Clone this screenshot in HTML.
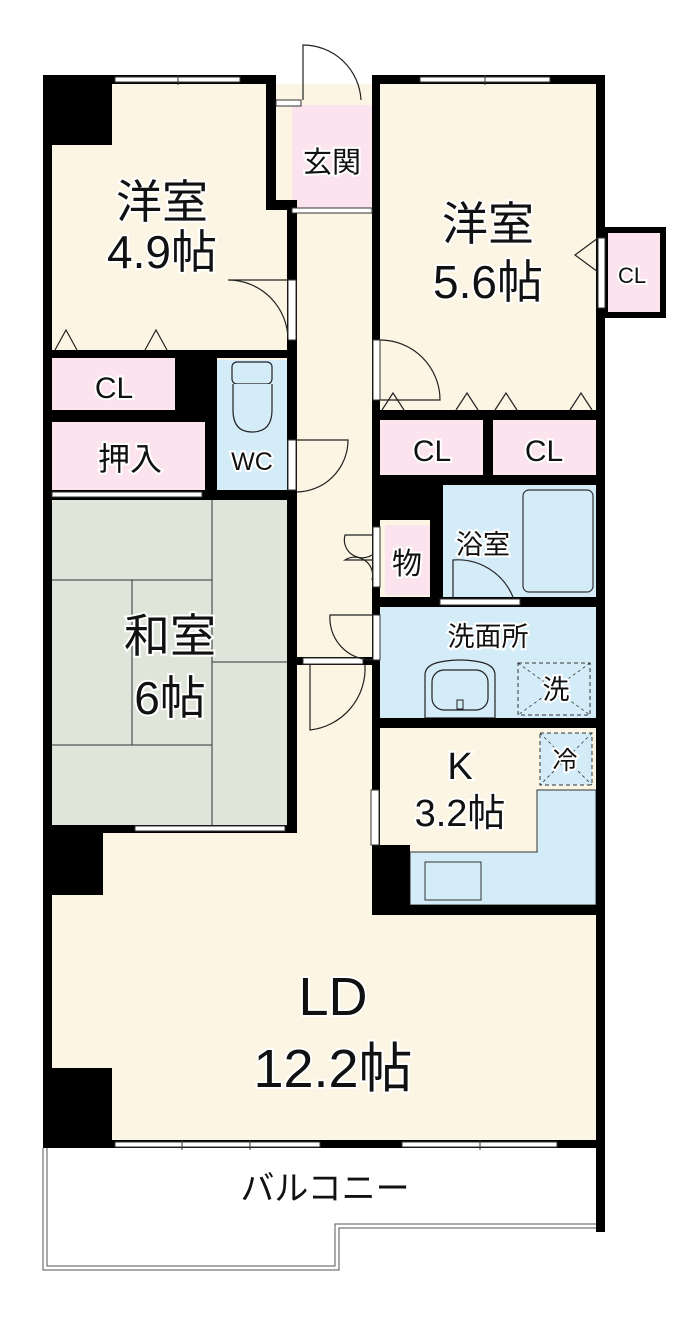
<!DOCTYPE html>
<html><head><meta charset="utf-8"><style>
html,body{margin:0;padding:0;background:#fff;}
svg{display:block;}
text{font-family:"Liberation Sans","Noto Sans CJK JP",sans-serif;fill:#111;text-anchor:middle;stroke:#fff;stroke-width:4;paint-order:stroke;}
</style></head><body>
<svg width="693" height="1326" viewBox="0 0 693 1326" xmlns="http://www.w3.org/2000/svg">
<!-- balcony -->
<path d="M45 1148 V1268 H337 V1226 H598" fill="none" stroke="#555" stroke-width="5"/>
<path d="M45 1148 V1268 H337 V1226 H598" fill="none" stroke="#fff" stroke-width="3"/>
<!-- floors -->
<rect x="52" y="84" width="544" height="1060" fill="#fdf5e3"/>
<rect x="292" y="105" width="80" height="105" fill="#fbe4ee"/>
<!-- 和室 tatami -->
<rect x="52" y="500" width="238" height="325" fill="#dfe6d9"/>
<g stroke="#333" stroke-width="1" fill="none">
<line x1="212" y1="500" x2="212" y2="825"/>
<line x1="52" y1="580" x2="212" y2="580"/>
<line x1="132" y1="580" x2="132" y2="745"/>
<line x1="52" y1="745" x2="212" y2="745"/>
<line x1="212" y1="662" x2="290" y2="662"/>
</g>
<!-- pink closets -->
<rect x="52" y="358" width="123" height="52" fill="#fbe4ee"/>
<rect x="52" y="422" width="153" height="68" fill="#fbe4ee"/>
<rect x="185" y="360" width="20" height="20" fill="#fbe4ee"/>
<rect x="380" y="420" width="103" height="55" fill="#fbe4ee"/>
<rect x="493" y="420" width="103" height="55" fill="#fbe4ee"/>
<rect x="385" y="525" width="45" height="70" fill="#fbe4ee"/>
<rect x="605" y="230" width="58" height="85" fill="#fbe4ee" stroke="#000" stroke-width="6"/>
<!-- blue rooms -->
<rect x="217" y="360" width="70" height="132" fill="#d3ecf8"/>
<rect x="443" y="485" width="153" height="112" fill="#d3ecf8"/>
<rect x="523" y="490" width="70" height="102" fill="#d3ecf8" stroke="#333" stroke-width="1.2" rx="6"/>
<rect x="380" y="607" width="216" height="111" fill="#d3ecf8"/>
<path d="M537 790 H596 V905 H410 V852 H537 Z" fill="#d3ecf8" stroke="#333" stroke-width="1"/>
<rect x="425" y="862" width="56" height="38" fill="none" stroke="#333" stroke-width="1"/>
<rect x="540" y="733" width="52" height="52" fill="#d3ecf8" stroke="#333" stroke-width="1" stroke-dasharray="4 3"/>
<path d="M540 733 L592 785 M592 733 L540 785" stroke="#333" stroke-width="0.8" stroke-dasharray="3 3"/>
<rect x="518" y="663" width="72" height="52" fill="none" stroke="#333" stroke-width="1" stroke-dasharray="4 3"/>
<path d="M518 663 L590 715 M590 663 L518 715" stroke="#333" stroke-width="0.8" stroke-dasharray="3 3"/>
<!-- sink -->
<path d="M425 718 V675 Q425 665 440 662 Q460 658 480 662 Q495 665 495 675 V718 Z" fill="#d3ecf8" stroke="#222" stroke-width="1.2"/>
<rect x="432" y="670" width="56" height="40" rx="12" fill="none" stroke="#222" stroke-width="1.2"/>
<rect x="457" y="700" width="6" height="9" fill="none" stroke="#222"/>
<!-- toilet -->
<rect x="232" y="362" width="40" height="22" rx="5" fill="#d3ecf8" stroke="#222" stroke-width="1.2"/>
<path d="M233 384 V410 Q233 432 252 432 Q272 432 272 410 V384" fill="#d3ecf8" stroke="#222" stroke-width="1.2"/>
<!-- walls -->
<g fill="#000">
<rect x="43" y="75" width="9" height="1073"/>
<rect x="43" y="75" width="69" height="70"/>
<rect x="43" y="75" width="227" height="9"/>
<rect x="266" y="75" width="10" height="30"/>
<rect x="266" y="105" width="10" height="105"/>
<rect x="266" y="200" width="31" height="10"/>
<rect x="287" y="200" width="10" height="630"/>
<rect x="52" y="350" width="238" height="8"/>
<rect x="175" y="350" width="42" height="70"/>
<rect x="205" y="350" width="12" height="150"/>
<rect x="52" y="410" width="165" height="12"/>
<rect x="52" y="490" width="245" height="10"/>
<rect x="52" y="825" width="245" height="8"/>
<rect x="43" y="825" width="60" height="70"/>
<rect x="43" y="1068" width="69" height="80"/>
<rect x="43" y="1140" width="562" height="8"/>
<rect x="372" y="75" width="233" height="9"/>
<rect x="372" y="75" width="8" height="840"/>
<rect x="596" y="75" width="9" height="1157"/>
<rect x="380" y="410" width="216" height="10"/>
<rect x="483" y="410" width="10" height="65"/>
<rect x="372" y="475" width="224" height="10"/>
<rect x="372" y="475" width="68" height="45"/>
<rect x="430" y="485" width="13" height="115"/>
<rect x="372" y="597" width="233" height="10"/>
<rect x="372" y="718" width="233" height="10"/>
<rect x="372" y="845" width="38" height="65"/>
<rect x="372" y="905" width="233" height="10"/>
<rect x="297" y="657" width="75" height="8"/>
</g>
<!-- windows -->
<g fill="#fff" stroke="#333" stroke-width="1">
<rect x="115" y="77" width="125" height="5"/>
<rect x="420" y="77" width="130" height="5"/>
<rect x="115" y="1142" width="205" height="5"/>
<rect x="402" y="1142" width="155" height="5"/>
<rect x="135" y="826" width="150" height="5"/>
<rect x="52" y="492" width="150" height="5"/>
<rect x="440" y="599" width="80" height="6"/>
<rect x="292" y="208" width="80" height="5"/>
<rect x="598" y="238" width="7" height="70"/>
</g>
<g stroke="#333" stroke-width="1">
<line x1="182" y1="1140" x2="182" y2="1150"/><line x1="250" y1="1140" x2="250" y2="1150"/>
<line x1="480" y1="1140" x2="480" y2="1150"/>
<line x1="178" y1="75" x2="178" y2="85"/><line x1="485" y1="75" x2="485" y2="85"/>
</g>
<!-- door openings -->
<g fill="#fff" stroke="#333" stroke-width="1">
<rect x="276" y="100" width="25" height="6"/>
<rect x="288" y="280" width="8" height="60"/>
<rect x="288" y="440" width="8" height="50"/>
<rect x="373" y="340" width="7" height="60"/>
<rect x="373" y="527" width="7" height="60"/>
<rect x="373" y="615" width="7" height="45"/>
<rect x="371" y="790" width="8" height="55"/>
<rect x="303" y="658" width="60" height="6"/>
</g>
<!-- door arcs -->
<g fill="none" stroke="#222" stroke-width="1.2">
<path d="M303 100 V45 A58 58 0 0 1 361 100"/>
<path d="M288 280 H228 A60 60 0 0 1 288 340"/>
<path d="M296 440 H348 A52 52 0 0 1 296 492"/>
<path d="M380 340 A60 60 0 0 1 440 400 H380"/>
<path d="M372 535 H345 A18 18 0 0 0 372 555 M372 560 H345 A18 18 0 0 1 372 580"/>
<path d="M372 615 H330 A42 42 0 0 0 372 660"/>
<path d="M310 665 V730 A62 62 0 0 0 365 665"/>
<path d="M598 238 L575 255 L598 272"/>
<path d="M55 350 L66 330 L77 350 M145 350 L156 330 L167 350"/>
<path d="M382 410 L393 393 L404 410 M456 410 L467 393 L478 410 M495 410 L506 393 L517 410 M570 410 L581 393 L592 410"/>
<path d="M453 597 V560 A60 60 0 0 1 513 597"/>
</g>
<!-- labels -->
<text x="162" y="218" font-size="46">洋室</text>
<text x="162" y="268" font-size="46">4.9帖</text>
<text x="488" y="240" font-size="46">洋室</text>
<text x="488" y="298" font-size="46">5.6帖</text>
<text x="332" y="172" font-size="29">玄関</text>
<text x="632" y="283" font-size="22">CL</text>
<text x="114" y="398" font-size="30">CL</text>
<text x="130" y="470" font-size="32">押入</text>
<text x="252" y="470" font-size="25">WC</text>
<text x="432" y="461" font-size="30">CL</text>
<text x="544" y="461" font-size="30">CL</text>
<text x="407" y="574" font-size="30">物</text>
<text x="483" y="554" font-size="27">浴室</text>
<text x="488" y="646" font-size="27">洗面所</text>
<text x="556" y="699" font-size="27">洗</text>
<text x="565" y="769" font-size="25">冷</text>
<text x="460" y="779" font-size="38">K</text>
<text x="460" y="826" font-size="38">3.2帖</text>
<text x="170" y="652" font-size="46">和室</text>
<text x="170" y="714" font-size="46">6帖</text>
<text x="333" y="1015" font-size="54">LD</text>
<text x="333" y="1087" font-size="54">12.2帖</text>
<text x="325" y="1200" font-size="34">バルコニー</text>
</svg>
</body></html>
